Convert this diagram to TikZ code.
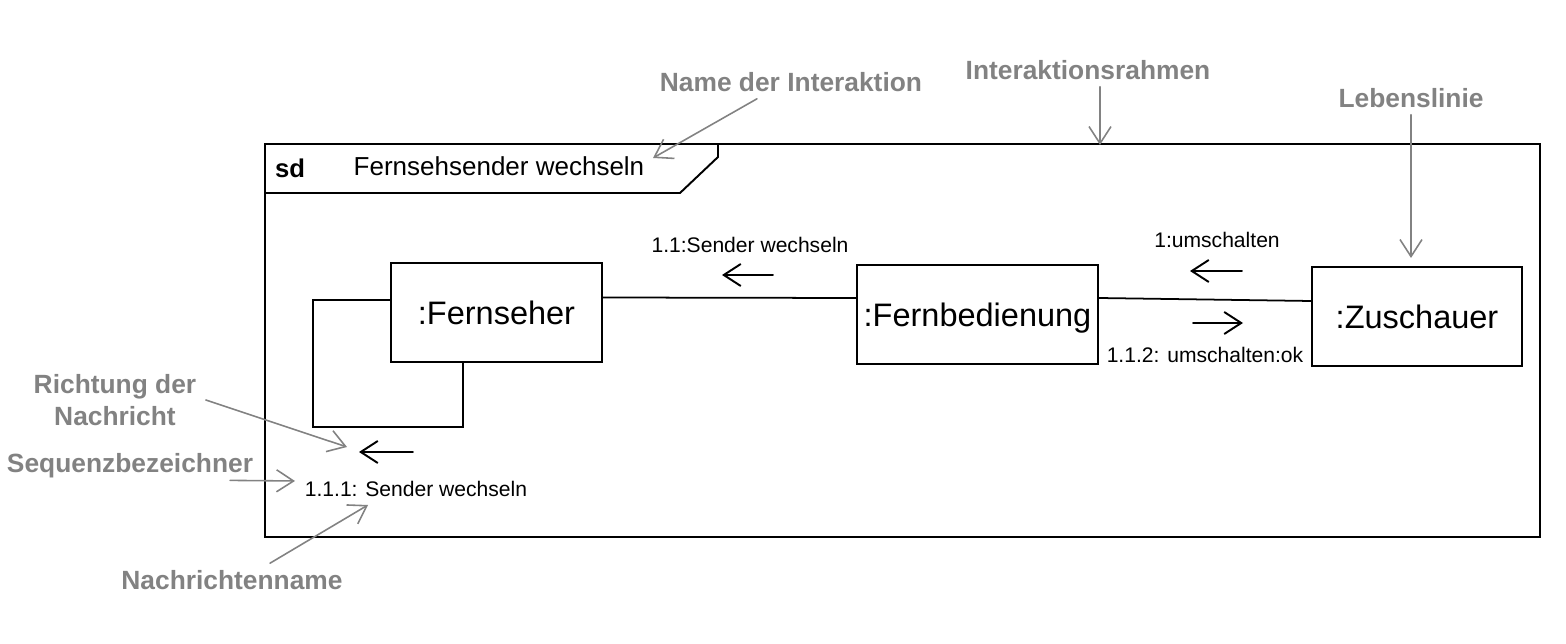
\documentclass[tikz,border=0pt]{standalone}
\usepackage{fontspec}
\setmainfont{Liberation Sans}
\usepackage{tikz}
\usetikzlibrary{arrows.meta}
\usepackage{xcolor}
\definecolor{notegray}{RGB}{130,130,130}

\begin{document}
\begin{tikzpicture}[x=0.02cm,y=-0.02cm,>={Straight Barb[length=3.4mm,width=4.4mm]},line cap=round,
  lifeline/.style={draw,line width=1pt,inner sep=0pt,text depth=0pt,minimum height=1.98cm,font=\fontsize{18.5}{22}\selectfont},
  msglabel/.style={font=\fontsize{12}{14}\selectfont,inner sep=1pt},
  msgarrow/.style={->,line width=1.1pt},
  note/.style={text=notegray,font=\fontsize{15}{18}\selectfont\bfseries,align=center,inner sep=1pt},
  notearrow/.style={->,notegray,line width=0.9pt}]
\useasboundingbox (0,0) rectangle (1566,644);
% interaction frame
\draw[line width=1.1pt] (265,144) rectangle (1540,537);
\draw[line width=1.1pt] (265,193) -- (680,193) -- (718,157) -- (718,144);
\node[font=\fontsize{14.6}{17}\selectfont\bfseries,inner sep=0pt] (sd) at (290,168) {sd};
\node[font=\fontsize{14.8}{17}\selectfont,inner sep=0pt] (title) at (499,166) {Fernsehsender wechseln};
% lifelines
\node[lifeline,minimum width=4.22cm] (fernseher) at (496.5,312.5) {:Fernseher};
\node[lifeline,minimum width=4.82cm] (fernbed) at (977.5,314.5) {:Fernbedienung};
\node[lifeline,minimum width=4.2cm] (zuschauer) at (1417,316.5) {:Zuschauer};
% links
\draw[line width=1pt] ([yshift=0.3cm]fernseher.east) -- ([yshift=0.33cm]fernbed.west);
\draw[line width=1pt] ([yshift=0.33cm]fernbed.east) -- ([yshift=0.31cm]zuschauer.west);
\coordinate (loopcorner) at (313,427);
\draw[line width=1pt] ([yshift=0.25cm]fernseher.west) -| (loopcorner) -| ([xshift=-0.67cm]fernseher.south);
% messages
\node[msglabel] (msg11) at (750,245) {1.1:Sender wechseln};
\draw[msgarrow] (773,275) -- (722,275);
\node[msglabel] (msg1) at (1217,240) {1:umschalten};
\draw[msgarrow] (1242,271) -- (1190,271);
\draw[msgarrow] (1193,323) -- (1243,323);
\node[msglabel] (msg112) at (1205,355) {1.1.2: umschalten:ok};
\draw[msgarrow] (413,452) -- (359,452);
\node[msglabel] (msg111) at (416,489) {1.1.1: Sender wechseln};
% annotations
\node[note] (nameint) at (791,82) {Name der Interaktion};
\coordinate (nametip) at (653,158);
\draw[notearrow] ([xshift=-0.68cm,yshift=-0.1cm]nameint.south) -- (nametip);
\node[note] (rahmen) at (1088,70) {Interaktionsrahmen};
\coordinate (rahmentip) at (1100,145);
\draw[notearrow] ([xshift=0.24cm,yshift=-0.1cm]rahmen.south) -- (rahmentip);
\node[note] (leben) at (1411,98) {Lebenslinie};
\coordinate (lebentip) at (1411,258);
\draw[notearrow] ([yshift=-0.1cm]leben.south) -- (lebentip);
\node[note] (richtung) at (115,400) {Richtung der\\Nachricht};
\coordinate (richtip) at (347,447);
\draw[notearrow] ([xshift=0.15cm]richtung.east) -- (richtip);
\node[note] (seq) at (130,466) {Sequenzbezeichner};
\coordinate (seqtip) at (295,481);
\draw[notearrow] ([xshift=-0.5cm]seq.south east) -- (seqtip);
\node[note] (nname) at (232,580) {Nachrichtenname};
\coordinate (nntip) at (368,505);
\draw[notearrow] ([xshift=0.76cm,yshift=0.1cm]nname.north) -- (nntip);
\end{tikzpicture}
\end{document}
